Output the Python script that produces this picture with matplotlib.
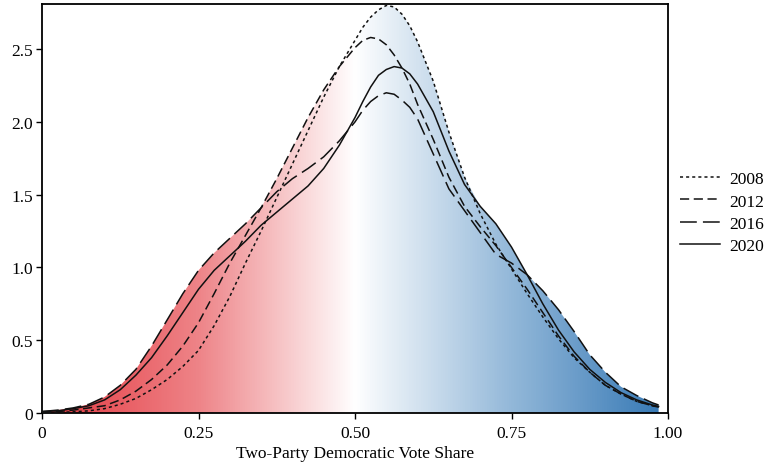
import matplotlib.pyplot as plt
import numpy as np
from matplotlib.colors import LinearSegmentedColormap
from matplotlib.patches import Polygon

plt.rcParams['font.family'] = ['Liberation Serif', 'DejaVu Serif']

share = [0.0, 0.025, 0.05, 0.075, 0.1, 0.125, 0.15, 0.175, 0.2, 0.225,
         0.25, 0.275, 0.3, 0.325, 0.35, 0.375, 0.4, 0.425, 0.45, 0.475,
         0.5, 0.5125, 0.525, 0.5375, 0.55, 0.5625, 0.575, 0.5875, 0.6, 0.625,
         0.65, 0.675, 0.7, 0.725, 0.75, 0.775, 0.8, 0.825, 0.85, 0.875,
         0.9, 0.925, 0.95, 0.975, 0.985]

d2008 = [0.002, 0.004, 0.008, 0.015, 0.03, 0.06, 0.10, 0.16, 0.23, 0.32,
         0.43, 0.60, 0.80, 1.03, 1.25, 1.48, 1.71, 1.94, 2.17, 2.38,
         2.56, 2.65, 2.72, 2.77, 2.80, 2.79, 2.74, 2.66, 2.55, 2.28,
         1.93, 1.62, 1.37, 1.16, 0.99, 0.82, 0.66, 0.51, 0.38, 0.28,
         0.19, 0.13, 0.08, 0.05, 0.04]

d2012 = [0.005, 0.01, 0.02, 0.035, 0.05, 0.09, 0.15, 0.23, 0.33, 0.46,
         0.62, 0.82, 1.03, 1.22, 1.41, 1.61, 1.82, 2.03, 2.22, 2.38,
         2.51, 2.56, 2.58, 2.57, 2.53, 2.46, 2.37, 2.26, 2.12, 1.88,
         1.62, 1.42, 1.28, 1.15, 1.00, 0.85, 0.69, 0.53, 0.39, 0.28,
         0.19, 0.13, 0.08, 0.05, 0.04]

d2016 = [0.01, 0.02, 0.035, 0.06, 0.11, 0.19, 0.30, 0.46, 0.64, 0.82,
         0.98, 1.10, 1.20, 1.30, 1.41, 1.52, 1.61, 1.68, 1.76, 1.87,
         2.00, 2.08, 2.14, 2.18, 2.20, 2.19, 2.15, 2.10, 2.02, 1.78,
         1.54, 1.39, 1.24, 1.09, 1.03, 0.95, 0.84, 0.71, 0.56, 0.40,
         0.28, 0.18, 0.12, 0.07, 0.055]

d2020 = [0.01, 0.015, 0.03, 0.05, 0.09, 0.16, 0.26, 0.38, 0.53, 0.69,
         0.85, 0.98, 1.08, 1.18, 1.29, 1.38, 1.47, 1.56, 1.68, 1.84,
         2.03, 2.14, 2.24, 2.32, 2.36, 2.38, 2.37, 2.33, 2.26, 2.07,
         1.80, 1.57, 1.42, 1.30, 1.14, 0.95, 0.75, 0.57, 0.42, 0.30,
         0.21, 0.14, 0.09, 0.055, 0.045]

years = ['2008', '2012', '2016', '2020']
styles = [(0, (2, 2)), (0, (6, 3)), (0, (11, 4)), '-']

fig = plt.figure(figsize=(7.64, 4.64), dpi=100)
ax = fig.add_axes([42 / 764, 50 / 464, 626 / 764, 409 / 464])

ymax = 2.81
x = np.array(share)
curves = [np.array(d) for d in (d2008, d2012, d2016, d2020)]
top = np.max(curves, axis=0)

# red -> white -> blue gradient, clipped under the envelope
cmap = LinearSegmentedColormap.from_list(
    'rwb', [(0.0, '#e4373f'), (0.25, '#ee8488'), (0.5, '#ffffff'),
            (0.75, '#93b8d9'), (1.0, '#3477b4')])
grad = np.linspace(0, 1, 512).reshape(1, -1)
img = ax.imshow(grad, extent=[0, 1, 0, ymax], aspect='auto', cmap=cmap,
                origin='lower', zorder=1)
verts = np.vstack([np.column_stack([x, top]), [[x[-1], 0], [x[0], 0]]])
clip = Polygon(verts, closed=True, transform=ax.transData, facecolor='none', edgecolor='none')
ax.add_patch(clip)
img.set_clip_path(clip)

for yr, d, ls in zip(years, curves, styles):
    ax.plot(x, d, color='#111111', lw=1.1, linestyle=ls, label=yr, zorder=3)

ax.set_xlim(0, 1)
ax.set_ylim(0, ymax)
ax.set_xticks([0, 0.25, 0.5, 0.75, 1.0])
ax.set_xticklabels(['0', '0.25', '0.50', '0.75', '1.00'])
ax.set_yticks([0, 0.5, 1.0, 1.5, 2.0, 2.5])
ax.set_yticklabels(['0', '0.5', '1.0', '1.5', '2.0', '2.5'])
ax.tick_params(direction='out', length=4, width=1, pad=2.5, labelsize=12.5, colors='black')
ax.tick_params(axis='x', pad=4.5)
for s in ax.spines.values():
    s.set_linewidth(1.3)
ax.set_xlabel('Two-Party Democratic Vote Share', fontsize=12.5, labelpad=3)

ax.legend(loc='center left', bbox_to_anchor=(1.0, 0.49), frameon=False,
          fontsize=12.5, handlelength=2.3, handletextpad=0.5,
          borderaxespad=0.5, borderpad=0.2, labelspacing=0.35)

fig.savefig('out.png', dpi=100)
